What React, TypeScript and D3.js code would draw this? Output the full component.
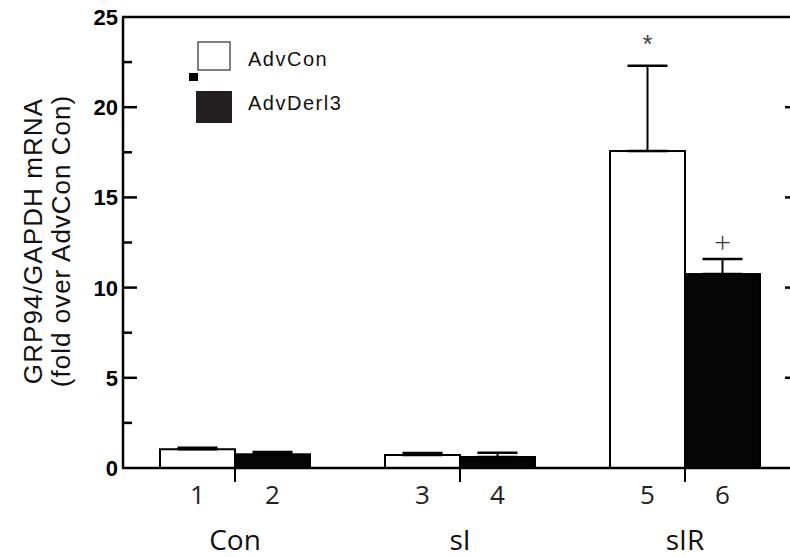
import React from 'react';
import * as d3 from 'd3';

// Groups on the x axis and the two series
const GROUPS = ['Con', 'sI', 'sIR'];
const SERIES = ['AdvCon', 'AdvDerl3'];
const BAR_LABELS = [['1', '2'], ['3', '4'], ['5', '6']];
// mean values, per group: [AdvCon, AdvDerl3]
const MEANS = [[1.04, 0.76], [0.72, 0.61], [17.57, 10.75]];
// upper error (mean + SEM)
const UPPER = [[1.12, 0.89], [0.83, 0.85], [22.3, 11.58]];
const MARKS = [['', ''], ['', ''], ['*', '+']];
const Y_TICKS = [0, 5, 10, 15, 20, 25];
const Y_MINOR = [2.5, 7.5, 12.5, 17.5, 22.5];

const W = 790, H = 557;
const AX_L = 123, AX_R = 792;
const FONT = 'Liberation Sans, Arial, sans-serif';
const FONT2 = 'Open Sans, Liberation Sans, sans-serif';

export default function App() {
  const y = d3.scaleLinear().domain([0, 25]).range([468, 17]);
  const x0 = d3.scaleBand().domain(GROUPS).range([122.5, 797.5]).paddingInner(1 / 3).paddingOuter(1 / 6);
  const x1 = d3.scaleBand().domain(SERIES).range([0, x0.bandwidth()]);
  const fills = ['#ffffff', '#050505'];

  return (
    <div style={{ position: 'fixed', left: 0, top: 0 }}>
      <svg width={W} height={H} style={{ display: 'block', background: '#fff' }}>
        {/* bars */}
        {GROUPS.map((g, gi) => SERIES.map((s, si) => {
          const bx = (x0(g) as number) + (x1(s) as number);
          const bw = x1.bandwidth();
          const cx = bx + bw / 2;
          const top = y(MEANS[gi][si]);
          const cap = y(UPPER[gi][si]);
          return (
            <g key={g + s}>
              <line x1={cx} x2={cx} y1={top} y2={cap} stroke="#000" strokeWidth={2} />
              <line x1={cx - 20} x2={cx + 20} y1={cap} y2={cap} stroke="#000" strokeWidth={2.5} />
              <rect x={bx} y={top} width={bw} height={y(0) - top} fill={fills[si]} stroke="#000" strokeWidth={2} />
              <line x1={cx - 20} x2={cx + 20} y1={top} y2={top} stroke="#000" strokeWidth={2.5} />
              {MARKS[gi][si] === '*' && (
                <text x={cx} y={cap - 13} textAnchor="middle" fontFamily={FONT} fontSize={26} fill="#444">*</text>
              )}
              {MARKS[gi][si] === '+' && (
                <text x={cx} y={cap - 6} textAnchor="middle" fontFamily={FONT2} fontWeight={300} fontSize={30} fill="#333">+</text>
              )}
              <text x={cx} y={504} textAnchor="middle" fontFamily={FONT2} fontSize={26} fill="#222">
                {BAR_LABELS[gi][si]}
              </text>
            </g>
          );
        }))}

        {/* frame */}
        <line x1={AX_L} x2={AX_L} y1={y(25)} y2={y(0)} stroke="#000" strokeWidth={2.5} />
        <line x1={AX_L - 1} x2={AX_R} y1={y(25)} y2={y(25)} stroke="#000" strokeWidth={2.5} />
        <line x1={AX_L - 1} x2={AX_R} y1={y(0)} y2={y(0)} stroke="#000" strokeWidth={2.5} />

        {/* left ticks */}
        {Y_TICKS.map((t) => (
          <g key={t}>
            {t > 0 && t < 25 && (
              <line x1={AX_L} x2={AX_L + 14} y1={y(t)} y2={y(t)} stroke="#000" strokeWidth={2.5} />
            )}
            <text x={AX_L - 5} y={y(t) + 8} textAnchor="end" fontFamily={FONT} fontWeight="bold"
              fontSize={22} fill="#000">{t}</text>
          </g>
        ))}
        {Y_MINOR.map((t) => (
          <line key={t} x1={AX_L} x2={AX_L + 9} y1={y(t)} y2={y(t)} stroke="#000" strokeWidth={2.5} />
        ))}
        {/* right ticks */}
        {Y_TICKS.filter((t) => t > 0 && t < 25).map((t) => (
          <line key={'r' + t} x1={785} x2={AX_R} y1={y(t)} y2={y(t)} stroke="#000" strokeWidth={2.5} />
        ))}

        {/* group separators */}
        {GROUPS.map((g) => {
          const cx = (x0(g) as number) + x0.bandwidth() / 2;
          return (
            <g key={'sep' + g}>
              <line x1={cx} x2={cx} y1={y(0)} y2={y(0) + 14} stroke="#000" strokeWidth={2} />
              <text x={cx} y={550} textAnchor="middle" fontFamily={FONT2} fontSize={28} fill="#111">{g}</text>
            </g>
          );
        })}

        {/* y title */}
        <g transform="translate(0,241) rotate(-90)">
          <text x={0} y={42} textAnchor="middle" fontFamily={FONT} fontSize={26} letterSpacing={1.1} fill="#111">GRP94/GAPDH mRNA</text>
          <text x={0} y={70} textAnchor="middle" fontFamily={FONT} fontSize={26} letterSpacing={1} fill="#111">(fold over AdvCon Con)</text>
        </g>

        {/* legend */}
        <rect x={198} y={42} width={32} height={28} fill="#fff" stroke="#555" strokeWidth={1.5} />
        <rect x={189} y={73} width={9} height={8} fill="#000" />
        <rect x={196} y={91} width={36} height={32} fill="#231f20" />
        <text x={248} y={66} fontFamily={FONT} fontSize={20} letterSpacing={1.5} fill="#111">{SERIES[0]}</text>
        <text x={248} y={110} fontFamily={FONT} fontSize={20} letterSpacing={1.5} fill="#111">{SERIES[1]}</text>
      </svg>
    </div>
  );
}
